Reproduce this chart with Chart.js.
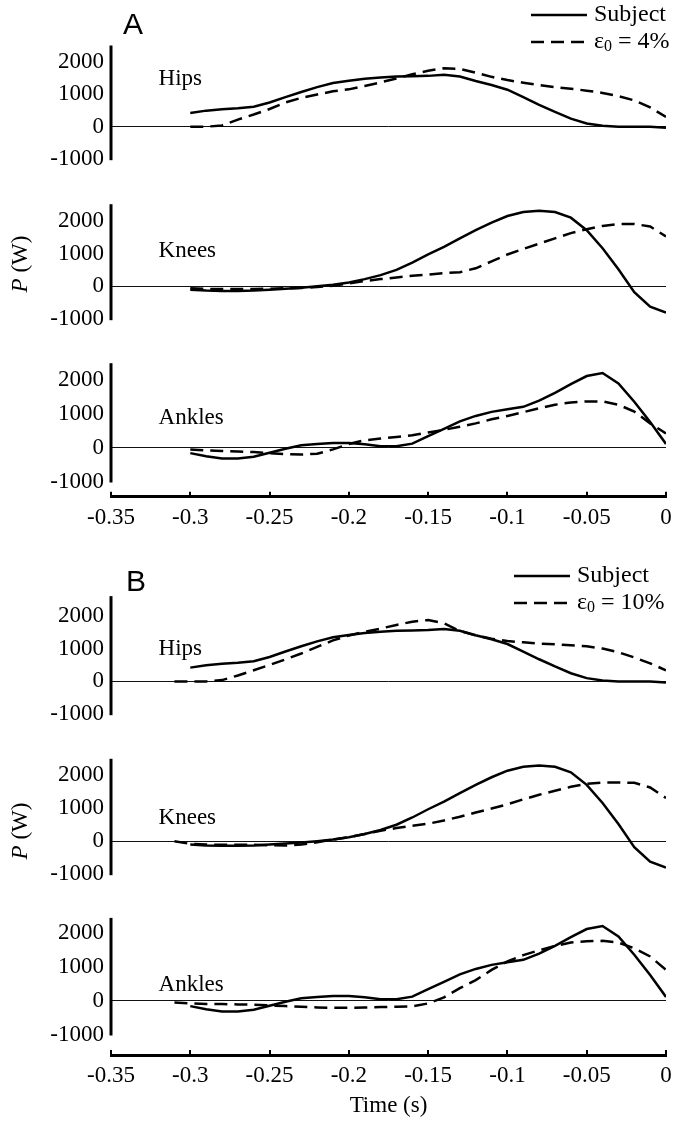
<!DOCTYPE html>
<html><head><meta charset="utf-8">
<script src="https://cdn.jsdelivr.net/npm/chart.js@4.4.1/dist/chart.umd.min.js"></script>
<style>
html,body{margin:0;padding:0;background:#fff;}
body{width:673px;height:1127px;position:relative;overflow:hidden;}
canvas{position:absolute;left:0;}
</style></head><body>
<canvas id="aHips" width="673" height="180" style="top:0px"></canvas>
<canvas id="aKnees" width="673" height="160" style="top:180px"></canvas>
<canvas id="aAnkles" width="673" height="210" style="top:340px"></canvas>
<canvas id="bHips" width="673" height="185" style="top:550px"></canvas>
<canvas id="bKnees" width="673" height="160" style="top:735px"></canvas>
<canvas id="bAnkles" width="673" height="232" style="top:895px"></canvas>
<script>
// ---------- data ----------
const timeSubject = [-0.30,-0.29,-0.28,-0.27,-0.26,-0.25,-0.24,-0.23,-0.22,-0.21,-0.20,-0.19,-0.18,-0.17,-0.16,-0.15,-0.14,-0.13,-0.12,-0.11,-0.10,-0.09,-0.08,-0.07,-0.06,-0.05,-0.04,-0.03,-0.02,-0.01,0];
const timeModel4  = [-0.30,-0.29,-0.28,-0.27,-0.26,-0.25,-0.24,-0.23,-0.22,-0.21,-0.20,-0.19,-0.18,-0.17,-0.16,-0.15,-0.14,-0.13,-0.12,-0.11,-0.10,-0.09,-0.08,-0.07,-0.06,-0.05,-0.04,-0.03,-0.02,-0.01,0];
const timeModel10 = [-0.31,-0.30,-0.29,-0.28,-0.27,-0.26,-0.25,-0.24,-0.23,-0.22,-0.21,-0.20,-0.19,-0.18,-0.17,-0.16,-0.15,-0.14,-0.13,-0.12,-0.11,-0.10,-0.09,-0.08,-0.07,-0.06,-0.05,-0.04,-0.03,-0.02,-0.01,0];

const hipsSubject   = [420,495,535,565,615,745,910,1070,1220,1345,1415,1475,1515,1545,1555,1565,1600,1545,1405,1285,1140,910,675,455,250,100,30,0,0,0,-30];
const kneesSubject  = [-100,-130,-140,-140,-130,-100,-70,-40,0,50,120,220,340,500,720,970,1200,1460,1710,1940,2140,2260,2300,2260,2090,1710,1160,520,-180,-620,-800];
const anklesSubject = [-160,-250,-320,-320,-270,-150,-30,70,110,140,140,100,40,40,120,340,560,780,940,1060,1140,1210,1390,1620,1880,2120,2210,1900,1360,760,110];

const hipsModel4   = [0,0,40,220,375,545,745,890,990,1090,1150,1255,1365,1485,1615,1725,1800,1780,1665,1535,1435,1355,1285,1220,1170,1110,1040,940,810,595,300];
const kneesModel4  = [-60,-80,-80,-80,-80,-70,-60,-50,-20,20,90,160,220,270,320,360,400,430,550,760,970,1140,1300,1460,1620,1740,1840,1900,1900,1820,1520];
const anklesModel4 = [-50,-80,-100,-110,-130,-160,-190,-200,-180,-50,110,220,270,320,370,450,530,620,720,840,940,1050,1170,1270,1340,1370,1370,1270,1070,720,420];

const hipsModel10   = [0,0,0,40,180,340,500,670,850,1050,1250,1400,1510,1610,1720,1820,1870,1770,1540,1400,1300,1230,1190,1150,1130,1100,1070,1000,890,730,550,340];
const kneesModel10  = [0,-80,-100,-110,-110,-110,-120,-130,-100,-30,50,120,220,320,400,470,530,630,740,870,990,1120,1270,1410,1530,1650,1740,1780,1780,1770,1630,1310];
const anklesModel10 = [-50,-80,-100,-100,-110,-120,-140,-160,-180,-200,-210,-210,-200,-190,-180,-170,-80,100,370,610,910,1160,1350,1490,1620,1720,1760,1770,1720,1550,1310,910];

const yTicks = [-1000, 0, 1000, 2000];
const yTickLabels = ['-1000', '0', '1000', '2000'];
const xTicks = [-0.35, -0.3, -0.25, -0.2, -0.15, -0.1, -0.05, 0];
const xTickLabels = ['-0.35', '-0.3', '-0.25', '-0.2', '-0.15', '-0.1', '-0.05', '0'];
const jointNames = ['Hips', 'Knees', 'Ankles'];
const subjectLabel = 'Subject';
const modelPercents = ['4%', '10%'];
const xTitle = 'Time (s)';
const panelLetters = ['A', 'B'];

// ---------- rendering ----------
const SERIF = '"Liberation Serif", "Times New Roman", serif';
const SANS = '"Liberation Sans", Arial, sans-serif';
const K = 33.8; // px per 1000 W
const FS = 23;
Chart.defaults.font.family = SERIF;
Chart.defaults.font.size = FS;
Chart.defaults.color = '#000';
const DASH = [13, 7];

function pts(t, v) { return t.map((x, i) => ({ x: x, y: v[i] })); }

const decorPlugin = {
  id: 'decor',
  afterDraw(chart, args, o) {
    const { ctx, chartArea: a, scales: { x, y } } = chart;
    ctx.save();
    ctx.strokeStyle = '#000'; ctx.fillStyle = '#000';
    ctx.lineWidth = 3; ctx.setLineDash([]);
    ctx.beginPath();
    ctx.moveTo(a.left, y.getPixelForValue(-1000) + 1);
    ctx.lineTo(a.left, a.top);
    ctx.stroke();
    ctx.font = FS + 'px ' + SERIF;
    ctx.textAlign = 'left'; ctx.textBaseline = 'alphabetic';
    ctx.fillText(o.name, x.getPixelForValue(-0.32), y.getPixelForValue(o.labelY));
    if (o.letter) {
      ctx.font = '30px ' + SANS;
      ctx.fillText(o.letter, o.letterX, o.letterY - o.top);
    }
    if (o.legend) {
      const L = o.legend;
      const y1 = L.y1 - o.top, y2 = L.y2 - o.top;
      ctx.lineWidth = 2.5;
      ctx.beginPath(); ctx.moveTo(L.x1, y1); ctx.lineTo(L.x2, y1); ctx.stroke();
      ctx.setLineDash(DASH);
      ctx.beginPath(); ctx.moveTo(L.x1, y2); ctx.lineTo(L.x2, y2); ctx.stroke();
      ctx.setLineDash([]);
      ctx.textBaseline = 'middle';
      ctx.font = '24px ' + SERIF;
      ctx.fillText(subjectLabel, L.tx, y1);
      ctx.fillText('\u03B5', L.tx, y2);
      let w = ctx.measureText('\u03B5').width;
      ctx.font = '16px ' + SERIF;
      ctx.fillText('0', L.tx + w, y2 + 5);
      w += ctx.measureText('0').width;
      ctx.font = '24px ' + SERIF;
      ctx.fillText(' = ' + L.pct, L.tx + w, y2);
    }
    if (o.ylabel) {
      ctx.translate(21, o.ylabel - o.top);
      ctx.rotate(-Math.PI / 2);
      ctx.textBaseline = 'middle';
      ctx.font = 'italic ' + FS + 'px ' + SERIF;
      const wP = ctx.measureText('P').width;
      ctx.font = FS + 'px ' + SERIF;
      const wR = ctx.measureText(' (W)').width;
      const s = -(wP + wR) / 2;
      ctx.font = 'italic ' + FS + 'px ' + SERIF;
      ctx.fillText('P', s, 0);
      ctx.font = FS + 'px ' + SERIF;
      ctx.fillText(' (W)', s + wP, 0);
    }
    ctx.restore();
  }
};

const panels = [
  { canvas: 'aHips', top: 0, height: 180, zeroY: 130, yMax: 2500, name: jointNames[0], labelY: 1270,
    subj: hipsSubject, modelT: timeModel4, model: hipsModel4, pct: modelPercents[0],
    letter: panelLetters[0], letterX: 123, letterY: 34,
    legend: { x1: 531, x2: 587, y1: 15, y2: 42, tx: 594, pct: modelPercents[0] } },
  { canvas: 'aKnees', top: 180, height: 160, zeroY: 288.7, yMax: 2500, name: jointNames[1], labelY: 880,
    subj: kneesSubject, modelT: timeModel4, model: kneesModel4, pct: modelPercents[0], ylabel: 264 },
  { canvas: 'aAnkles', top: 340, height: 210, zeroY: 447.7, yMax: 2500, name: jointNames[2], labelY: 700,
    subj: anklesSubject, modelT: timeModel4, model: anklesModel4, pct: modelPercents[0],
    xAxisY: 496.7, scaleH: 40 },
  { canvas: 'bHips', top: 550, height: 185, zeroY: 684, yMax: 2600, name: jointNames[0], labelY: 810,
    subj: hipsSubject, modelT: timeModel10, model: hipsModel10, pct: modelPercents[1],
    letter: panelLetters[1], letterX: 126, letterY: 591,
    legend: { x1: 514, x2: 570, y1: 576, y2: 603, tx: 577, pct: modelPercents[1] } },
  { canvas: 'bKnees', top: 735, height: 160, zeroY: 843.3, yMax: 2500, name: jointNames[1], labelY: 510,
    subj: kneesSubject, modelT: timeModel10, model: kneesModel10, pct: modelPercents[1], ylabel: 831 },
  { canvas: 'bAnkles', top: 895, height: 232, zeroY: 1000.7, yMax: 2450, name: jointNames[2], labelY: 300,
    subj: anklesSubject, modelT: timeModel10, model: anklesModel10, pct: modelPercents[1],
    xAxisY: 1055, scaleH: 69.2, title: true }
];

panels.forEach(p => {
  const topPx = p.zeroY - p.yMax / 1000 * K;
  const padTop = topPx - p.top;
  const hasX = p.xAxisY !== undefined;
  let yMin = -1000, padBottom;
  if (hasX) {
    yMin = -1000 - (p.xAxisY - (p.zeroY + K)) / K * 1000;
    padBottom = p.top + p.height - p.xAxisY - p.scaleH;
  } else {
    padBottom = p.top + p.height - (p.zeroY + K);
  }
  const xScale = hasX ? {
    type: 'linear', min: -0.35, max: 0, position: 'bottom',
    afterBuildTicks: s => { s.ticks = xTicks.map(v => ({ value: v })); },
    afterFit: s => { s.height = p.scaleH; s.paddingRight = 0; s.paddingLeft = 0; },
    ticks: { padding: 12, maxRotation: 0, autoSkip: false,
             callback: (v, i) => xTickLabels[i], font: { size: FS } },
    grid: { display: true, drawOnChartArea: false, drawTicks: true, tickLength: -5,
            color: '#000', lineWidth: 2, tickWidth: 2 },
    border: { display: true, color: '#000', width: 3 },
    title: { display: !!p.title, text: xTitle, font: { size: FS }, padding: { top: 4, bottom: 4 } }
  } : { type: 'linear', min: -0.35, max: 0, display: false };

  new Chart(document.getElementById(p.canvas), {
    type: 'line',
    data: {
      datasets: [
        { label: subjectLabel, data: pts(timeSubject, p.subj), borderColor: '#000', borderWidth: 2.5,
          pointRadius: 0, tension: 0, fill: false },
        { label: '\u03B50 = ' + p.pct, data: pts(p.modelT, p.model), borderColor: '#000', borderWidth: 2.5,
          borderDash: DASH, pointRadius: 0, tension: 0, fill: false }
      ]
    },
    options: {
      responsive: false, animation: false, devicePixelRatio: 1,
      layout: { padding: { left: 0, right: 7, top: padTop, bottom: padBottom } },
      plugins: {
        legend: { display: false }, tooltip: { enabled: false },
        decor: Object.assign({}, p)
      },
      scales: {
        x: xScale,
        y: {
          type: 'linear', min: yMin, max: p.yMax,
          afterBuildTicks: s => { s.ticks = yTicks.map(v => ({ value: v })); },
          afterFit: s => { s.width = 111; },
          ticks: { padding: 7, callback: v => yTickLabels[yTicks.indexOf(v)], font: { size: FS } },
          grid: { drawTicks: false, lineWidth: 1,
                  color: c => (c.tick && c.tick.value === 0) ? '#111' : 'rgba(0,0,0,0)' },
          border: { display: false }
        }
      }
    },
    plugins: [decorPlugin]
  });
});
</script>
</body></html>
